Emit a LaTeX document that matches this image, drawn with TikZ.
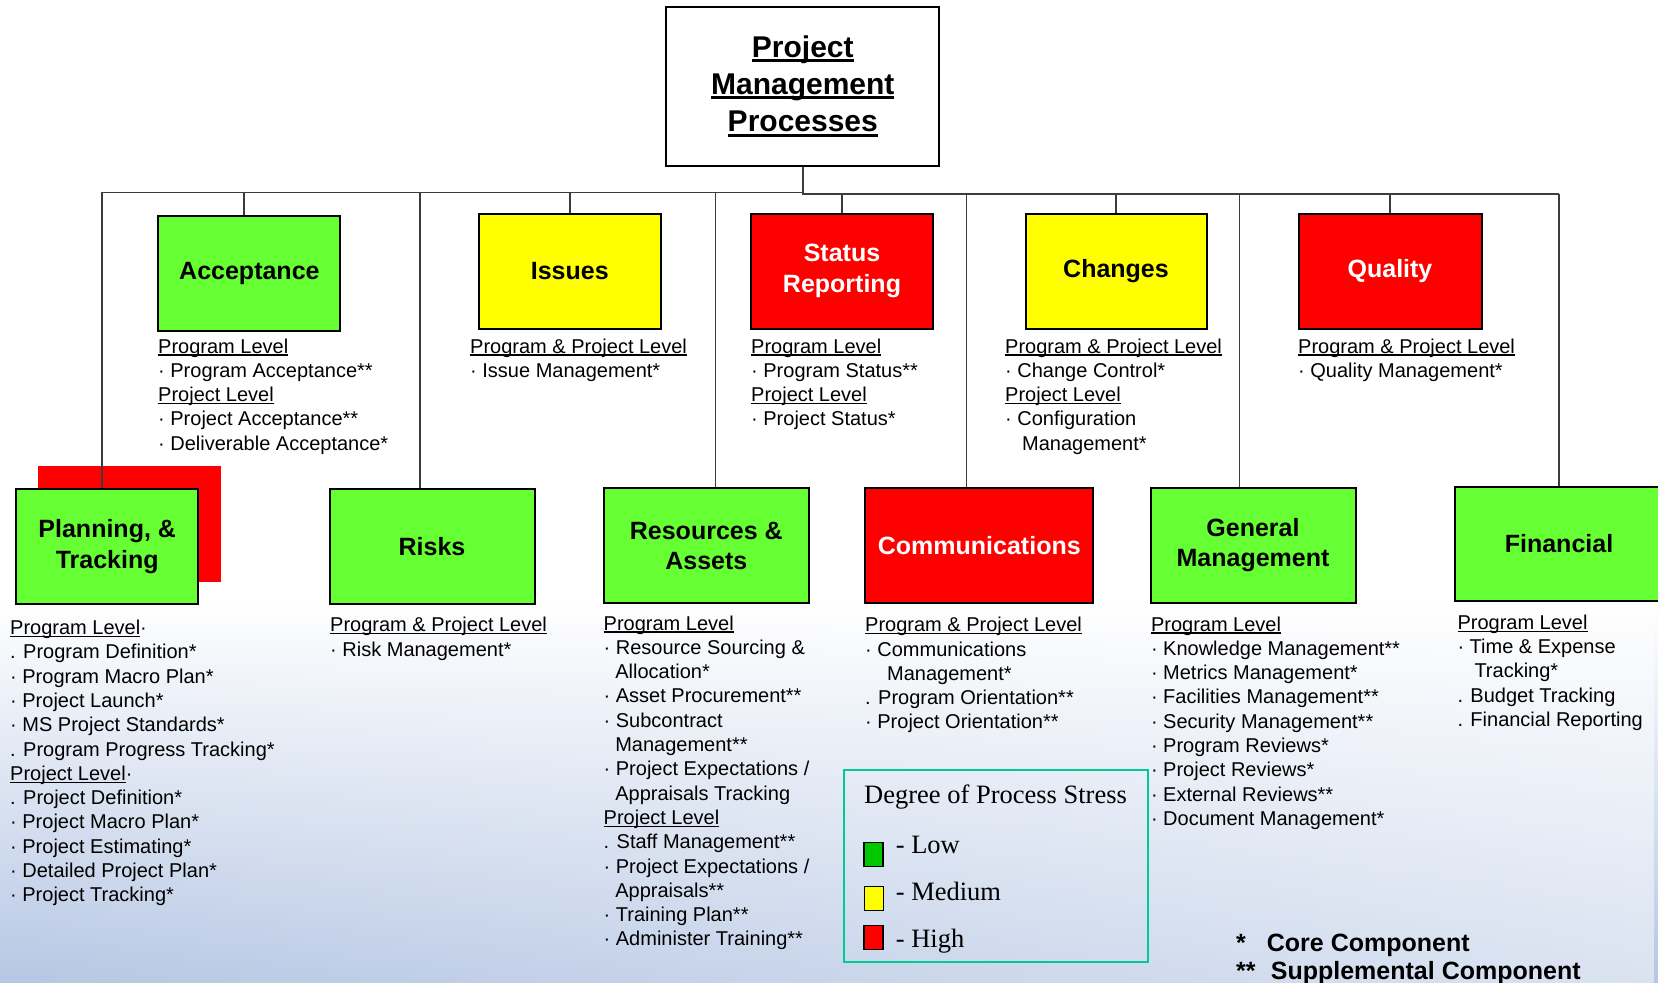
\documentclass[tikz,border=0pt]{standalone}
\usepackage{fontspec}
\setmainfont{Liberation Sans}
\newfontfamily\legendserif{Liberation Serif}
\usetikzlibrary{fadings}

\definecolor{boxgreen}{RGB}{102,255,51}
\definecolor{boxyellow}{RGB}{255,255,0}
\definecolor{boxred}{RGB}{255,0,0}
\definecolor{keygreen}{RGB}{0,200,0}
\definecolor{legendedge}{RGB}{0,200,150}
\definecolor{wirecol}{RGB}{60,60,60}
\definecolor{bgblue}{RGB}{182,199,228}

% underlined headings
\newcommand\ulin[1]{\setbox0=\hbox{#1}\rlap{\vrule width\wd0 height -1.3pt depth 2.6pt}\box0}
\newcommand\ulbig[1]{\setbox0=\hbox{#1}\rlap{\vrule width\wd0 height -2pt depth 5pt}\box0}
% left / centred line blocks whose baseline is the first line
\newcommand\txtblock[1]{\vtop{\halign{##\hfil\cr#1\crcr}}}
\newcommand\ctrblock[1]{\vtop{\halign{\hfil##\hfil\cr#1\crcr}}}

\tikzfading[name=faderight, left color=transparent!100, right color=transparent!50]

\tikzset{
  wire/.style={draw=wirecol, line width=1.4pt},
  procbox/.style={draw=black, line width=2pt, inner sep=0pt, minimum height=115pt,
    align=center, font=\bfseries\fontsize{25}{30.5}\selectfont},
  detail/.style={anchor=base west, inner sep=0pt, font=\fontsize{20}{24.3}\selectfont},
  keysq/.style={draw=black, line width=1.6pt, minimum width=19pt, minimum height=24pt, inner sep=0pt},
  keytext/.style={anchor=base west, inner sep=0pt, font=\legendserif\fontsize{26.5}{30}\selectfont},
  foot/.style={anchor=base west, inner sep=0pt, font=\bfseries\fontsize{25}{30}\selectfont}
}

\begin{document}
\begin{tikzpicture}[x=1pt, y=-1pt]
\clip (0,0) rectangle (1658,983);
\useasboundingbox (0,0) rectangle (1658,983);

% background
\fill[white] (0,0) rectangle (1658,983);
\shade[top color=white, bottom color=bgblue] (0,600) rectangle (1658,983);
\fill[white, path fading=faderight] (0,600) rectangle (1658,983);

% title
\node[draw=black, line width=2pt, minimum width=273pt, minimum height=159pt, inner sep=0pt,
      font=\bfseries\fontsize{30}{37.2}\selectfont] (title) at (802.8,86)
  {\ctrblock{\ulbig{Project}\cr\ulbig{Management}\cr\ulbig{Processes}}};

% shadow square behind Planning
\fill[boxred] (38,466) rectangle (221,582);

% bus coordinates
\coordinate (busL) at (102,192.3);
\coordinate (busR) at (1559,194);

% top row
\node[procbox, fill=boxgreen,  minimum width=182pt] (acc) at (249.4,273.3) {Acceptance};
\node[procbox, fill=boxyellow, minimum width=182pt] (iss) at (569.8,271) {Issues};
\node[procbox, fill=boxred, text=white, minimum width=182pt] (sta) at (842,271) {Status\\Reporting};
\node[procbox, fill=boxyellow, minimum width=181pt] (chg) at (1116,271) {Changes};
\node[procbox, fill=boxred, text=white, minimum width=183pt] (qua) at (1390,271) {Quality};

% bottom row
\node[procbox, fill=boxgreen, minimum width=182pt] (plan) at (107.2,546.7) {Planning, \&\\Tracking};
\node[procbox, fill=boxgreen, minimum width=205pt] (risk) at (432,546.5) {Risks};
\node[procbox, fill=boxgreen, minimum width=205pt] (res) at (706.3,545.8) {Resources \&\\Assets};
\node[procbox, fill=boxred, text=white, minimum width=228pt] (comm) at (979.3,545.8) {Communications};
\node[procbox, fill=boxgreen, minimum width=205pt] (gen) at (1253,545.2) {General\\Management};
\node[procbox, fill=boxgreen, minimum width=208pt, minimum height=114pt] (fin) at (1559,543.7) {Financial};

% connectors: stem, bus and drops
\draw[wire] (title.south) |- (busR);
\draw[wire] (busL) -- (busL -| title.south);
\draw[wire] ([xshift=-5.4pt]acc.north) -- ([xshift=-5.4pt]acc.north |- busL);
\draw[wire] (iss.north) -- (iss.north |- busL);
\draw[wire] (sta.north) -- (sta.north |- busR);
\draw[wire] (chg.north) -- (chg.north |- busR);
\draw[wire] (qua.north) -- (qua.north |- busR);
\draw[wire] ([xshift=-5.2pt]plan.north) -- ([xshift=-5.2pt]plan.north |- busL);
\draw[wire] ([xshift=-12.2pt]risk.north) -- ([xshift=-12.2pt]risk.north |- busL);
\draw[wire] ([xshift=9.4pt]res.north) -- ([xshift=9.4pt]res.north |- busL);
\draw[wire] ([xshift=-12.7pt]comm.north) -- ([xshift=-12.7pt]comm.north |- busR);
\draw[wire] ([xshift=-13.3pt]gen.north) -- ([xshift=-13.3pt]gen.north |- busR);
\draw[wire] (fin.north) -- (fin.north |- busR);

% details, top row
\node[detail] (accT) at (158,353) {\txtblock{\ulin{Program Level}\cr
· Program Acceptance**\cr
\ulin{Project Level}\cr
· Project Acceptance**\cr
· Deliverable Acceptance*}};
\node[detail] (issT) at (470,353) {\txtblock{\ulin{Program \& Project Level}\cr
· Issue Management*}};
\node[detail] (staT) at (751,353) {\txtblock{\ulin{Program Level}\cr
· Program Status**\cr
\ulin{Project Level}\cr
· Project Status*}};
\node[detail] (chgT) at (1005,353) {\txtblock{\ulin{Program \& Project Level}\cr
· Change Control*\cr
\ulin{Project Level}\cr
· Configuration\cr
\kern17pt Management*}};
\node[detail] (quaT) at (1298,353) {\txtblock{\ulin{Program \& Project Level}\cr
· Quality Management*}};

% details, bottom row
\node[detail] (planT) at (10,634.5) {\txtblock{\ulin{Program Level}·\cr
. Program Definition*\cr
· Program Macro Plan*\cr
· Project Launch*\cr
· MS Project Standards*\cr
. Program Progress Tracking*\cr
\ulin{Project Level}·\cr
. Project Definition*\cr
· Project Macro Plan*\cr
· Project Estimating*\cr
· Detailed Project Plan*\cr
· Project Tracking*}};
\node[detail] (riskT) at (330,631.7) {\txtblock{\ulin{Program \& Project Level}\cr
· Risk Management*}};
\node[detail] (resT) at (603.5,630) {\txtblock{\ulin{Program Level}\cr
· Resource Sourcing \&\cr
\kern11.6pt Allocation*\cr
· Asset Procurement**\cr
· Subcontract\cr
\kern11.6pt Management**\cr
· Project Expectations /\cr
\kern11.6pt Appraisals Tracking\cr
\ulin{Project Level}\cr
. Staff Management**\cr
· Project Expectations /\cr
\kern11.6pt Appraisals**\cr
· Training Plan**\cr
· Administer Training**}};
\node[detail] (commT) at (865,631.7) {\txtblock{\ulin{Program \& Project Level}\cr
· Communications\cr
\kern22pt Management*\cr
. Program Orientation**\cr
· Project Orientation**}};
\node[detail] (genT) at (1150.8,631) {\txtblock{\ulin{Program Level}\cr
· Knowledge Management**\cr
· Metrics Management*\cr
· Facilities Management**\cr
· Security Management**\cr
· Program Reviews*\cr
· Project Reviews*\cr
· External Reviews**\cr
· Document Management*}};
\node[detail] (finT) at (1457.3,629.3) {\txtblock{\ulin{Program Level}\cr
· Time \& Expense\cr
\kern17pt Tracking*\cr
. Budget Tracking\cr
. Financial Reporting}};

% legend
\node[draw=legendedge, line width=1.8pt, minimum width=304pt, minimum height=192pt, inner sep=0pt] (legend) at (996,866) {};
\node[keytext] (legtitle) at (864,803.5) {Degree of Process Stress};
\node[keysq, fill=keygreen]  (sqlow)  at (873.2,854.5) {};
\node[keysq, fill=boxyellow] (sqmed)  at (873.8,898.3) {};
\node[keysq, fill=boxred]    (sqhigh) at (873.5,937.4) {};
\node[keytext] (lowtxt)  at (895.6,853.3) {- Low};
\node[keytext] (medtxt)  at (895.6,900.7) {- Medium};
\node[keytext] (hightxt) at (895.6,947.3) {- High};

% footnotes
\node[foot] (core) at (1236,951.7) {\makebox[30.7pt][l]{*}Core Component};
\node[foot] (supp) at (1236,979.5) {\makebox[34.7pt][l]{**}Supplemental Component};
\end{tikzpicture}
\end{document}
